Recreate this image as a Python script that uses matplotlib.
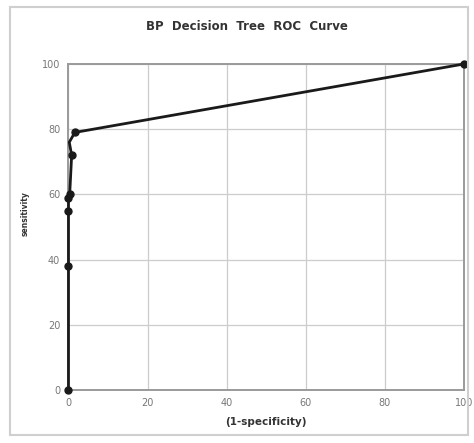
import matplotlib
matplotlib.use("Agg")
import matplotlib.pyplot as plt
from matplotlib.patches import Rectangle

# ROC points
fpr = [0, 0, 0, 0, 0.3, 0.8, 0.2, 1.6, 100]
sens = [0, 38, 55, 59, 60, 72, 76, 79, 100]
marked = [0, 1, 2, 3, 4, 5, 7, 8]  # the 76 point is just a bend, no dot
ticks = [0, 20, 40, 60, 80, 100]

fig = plt.figure(figsize=(4.74, 4.43), dpi=100)
fig.patch.set_facecolor("white")

# light frame around the whole chart
fig.patches.append(Rectangle((10 / 474, 8 / 443), 458 / 474, 428 / 443,
                             transform=fig.transFigure, fill=False,
                             edgecolor="#cfcfcf", linewidth=1.5))

ax = fig.add_axes([0.1445, 0.1196, 0.8345, 0.736])
ax.set_xlim(0, 100)
ax.set_ylim(0, 100)
ax.set_xticks(ticks)
ax.set_yticks(ticks)
ax.grid(True, color="#cccccc", linewidth=0.9)
ax.set_axisbelow(True)
for s in ax.spines.values():
    s.set_color("#9a9a9a")
    s.set_linewidth(1.4)
ax.tick_params(length=0, pad=6, labelsize=7, colors="#777777")

ax.plot(fpr, sens, color="#1a1a1a", linewidth=2, marker="o", markersize=5,
        markevery=marked, clip_on=False, zorder=5)

ax.set_xlabel("(1-specificity)", fontsize=7.5, fontweight="bold",
              color="#333333", labelpad=6)
ax.set_ylabel("sensitivity", fontsize=5.5, fontweight="bold",
              color="#333333")
ax.yaxis.set_label_coords(-0.097, 0.54)
fig.text(0.52, 0.941, "BP  Decision  Tree  ROC  Curve", ha="center",
         va="center", fontsize=8.5, fontweight="bold", color="#333333")

fig.savefig("out.png", dpi=100)
